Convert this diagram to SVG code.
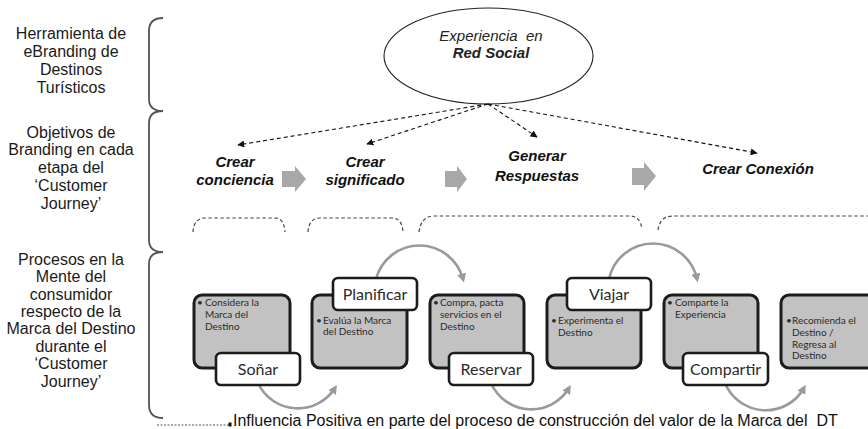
<svg xmlns="http://www.w3.org/2000/svg" width="868" height="429" viewBox="0 0 868 429">
<style>
.side{font-family:"Liberation Sans",Arial,sans-serif;font-size:16px;fill:#1a1a1a;text-anchor:middle}
.obj{font-family:"Liberation Sans",Arial,sans-serif;font-size:15px;font-weight:bold;font-style:italic;fill:#111;text-anchor:middle}
.ell{font-family:"Liberation Sans",Arial,sans-serif;font-size:15px;font-style:italic;fill:#222;text-anchor:middle}
.dash{fill:none;stroke:#111;stroke-width:1.1;stroke-dasharray:4 3}
.brk{fill:none;stroke:#444;stroke-width:1.2;stroke-dasharray:3.5 2.5}
.brace{fill:none;stroke:#555;stroke-width:1.8}
.blk{fill:#a8a8a8}
.box{fill:#c2c2c2;stroke:#1c1c1c;stroke-width:3}
.lab{fill:#fff;stroke:#1c1c1c;stroke-width:2.6}
.labt{font-family:Lato,"Open Sans",sans-serif;font-size:16px;fill:#2a2a2a;text-anchor:middle}
.sm{font-family:Lato,"Open Sans",sans-serif;font-size:10px;fill:#2a2a2a}
.arc{fill:none;stroke:#9a9a9a;stroke-width:2.6}
.foot{font-family:"Liberation Sans",Arial,sans-serif;font-size:16px;fill:#111}
</style>
<defs>
<marker id="ah" viewBox="0 0 10 10" refX="9" refY="5" markerWidth="7" markerHeight="7" markerUnits="userSpaceOnUse" orient="auto"><path d="M0,0 L10,5 L0,10 z" fill="#111"/></marker>
<marker id="ga" viewBox="0 0 10 10" refX="6" refY="5" markerWidth="9" markerHeight="9" markerUnits="userSpaceOnUse" orient="auto"><path d="M0,0 L10,5 L0,10 z" fill="#9a9a9a"/></marker>
</defs>
<rect width="868" height="429" fill="#fff"/>

<g id="side-labels">
<text class="side"><tspan x="71" y="38.5">Herramienta de</tspan><tspan x="71" y="56.7">eBranding de</tspan><tspan x="71" y="74.9">Destinos</tspan><tspan x="71" y="93">Turísticos</tspan></text>
<text class="side"><tspan x="71" y="137.5">Objetivos de</tspan><tspan x="71" y="155.3">Branding en cada</tspan><tspan x="71" y="173.1">etapa del</tspan><tspan x="71" y="190.9">‘Customer</tspan><tspan x="71" y="208.7">Journey’</tspan></text>
<text class="side"><tspan x="71" y="264.8">Procesos en la</tspan><tspan x="71" y="282.2">Mente del</tspan><tspan x="71" y="299.6">consumidor</tspan><tspan x="71" y="317">respecto de la</tspan><tspan x="71" y="334.4">Marca del Destino</tspan><tspan x="71" y="351.8">durante el</tspan><tspan x="71" y="369.2">‘Customer</tspan><tspan x="71" y="386.6">Journey’</tspan></text>
<path class="brace" d="M163,18 Q149,18 149,31 L149,99 Q149,111 163,111 Q149,111 149,123 L149,240 Q149,252 163,252 Q149,252 149,264 L149,405 Q149,418 163,418"/>
</g>

<g id="red-social">
<ellipse cx="488.5" cy="56" rx="104.5" ry="48" fill="#fff" stroke="#222" stroke-width="1.1"/>
<text class="ell" x="491" y="41" xml:space="preserve">Experiencia  en</text>
<text class="ell" x="491" y="58" font-weight="bold" fill="#111">Red Social</text>
</g>

<g id="connectors">
<line class="dash" x1="488" y1="104" x2="238" y2="145" marker-end="url(#ah)"/>
<line class="dash" x1="488" y1="104" x2="367" y2="144" marker-end="url(#ah)"/>
<line class="dash" x1="488" y1="104" x2="537" y2="137" marker-end="url(#ah)"/>
<line class="dash" x1="488" y1="104" x2="757" y2="153" marker-end="url(#ah)"/>
<path class="blk" d="M282,171 L295,171 L295,166 L306,179 L295,192 L295,187 L282,187 z"/>
<path class="blk" d="M445,171 L457,171 L457,166 L467,179 L457,192 L457,187 L445,187 z"/>
<path class="blk" d="M632,168 L644,168 L644,162 L656,176 L644,191 L644,185 L632,185 z"/>
<path class="brk" d="M193,232 Q194,218 205,218 L275,218 Q284,218 285,232"/>
<path class="brk" d="M308,232 Q309,218 320,218 L392,218 Q402,218 403,232"/>
<path class="brk" d="M419,232 Q421,216 434,216 L630,216 Q640,216 642,229"/>
<path class="brk" d="M658,230 Q660,216 673,216 L868,216"/>
<path class="arc" d="M258,383 A44,44 0 0 0 335,388" marker-end="url(#ga)"/>
<path class="arc" d="M376,279 A45,45 0 0 1 463,279" marker-end="url(#ga)"/>
<path class="arc" d="M491,383 A44,44 0 0 0 569,388" marker-end="url(#ga)"/>
<path class="arc" d="M609,279 A45,45 0 0 1 697,279" marker-end="url(#ga)"/>
<path class="arc" d="M725,383 A44,44 0 0 0 804,388" marker-end="url(#ga)"/>
<line x1="157" y1="425" x2="229" y2="425" stroke="#555" stroke-width="1.2" stroke-dasharray="2 1.5"/>
<rect x="228.5" y="422.5" width="3" height="4" fill="#111"/>
</g>

<g id="objectives">
<text class="obj"><tspan x="235" y="167">Crear</tspan><tspan x="235" y="185">conciencia</tspan></text>
<text class="obj"><tspan x="365" y="167">Crear</tspan><tspan x="365" y="185">significado</tspan></text>
<text class="obj"><tspan x="537" y="161">Generar</tspan><tspan x="537" y="181">Respuestas</tspan></text>
<text class="obj" x="758" y="174">Crear Conexión</text>
</g>

<g id="sonar">
<rect class="box" x="194" y="295" width="96" height="73" rx="8"/>
<text class="sm"><tspan x="197" y="306">•</tspan><tspan x="205" y="306">Considera la</tspan><tspan x="205" y="318">Marca del</tspan><tspan x="205" y="330">Destino</tspan></text>
<rect class="lab" x="216" y="353" width="84" height="32" rx="5"/>
<text class="labt" x="258" y="375">Soñar</text>
</g>

<g id="planificar">
<rect class="box" x="312" y="295" width="95" height="73" rx="8"/>
<rect class="lab" x="333" y="278" width="84" height="32" rx="5"/>
<text class="labt" x="375" y="300">Planificar</text>
<text class="sm"><tspan x="316" y="324">•</tspan><tspan x="323" y="324">Evalúa la Marca</tspan><tspan x="323" y="335">del Destino</tspan></text>
</g>

<g id="reservar">
<rect class="box" x="430" y="295" width="94" height="73" rx="8"/>
<text class="sm"><tspan x="433" y="306">•</tspan><tspan x="440" y="306">Compra, pacta</tspan><tspan x="440" y="318">servicios en el</tspan><tspan x="440" y="330">Destino</tspan></text>
<rect class="lab" x="449" y="353" width="84" height="32" rx="5"/>
<text class="labt" x="491" y="375">Reservar</text>
</g>

<g id="viajar">
<rect class="box" x="547" y="295" width="94" height="73" rx="8"/>
<rect class="lab" x="567" y="278" width="84" height="32" rx="5"/>
<text class="labt" x="609" y="300">Viajar</text>
<text class="sm"><tspan x="551" y="324">•</tspan><tspan x="558" y="324">Experimenta el</tspan><tspan x="558" y="336">Destino</tspan></text>
</g>

<g id="compartir">
<rect class="box" x="664" y="295" width="94" height="73" rx="8"/>
<text class="sm"><tspan x="667" y="306">•</tspan><tspan x="675" y="306">Comparte la</tspan><tspan x="675" y="318">Experiencia</tspan></text>
<rect class="lab" x="683" y="353" width="85" height="32" rx="5"/>
<text class="labt" x="725.5" y="375">Compartir</text>
</g>

<g id="recomienda">
<rect class="box" x="781" y="295" width="100" height="73" rx="8"/>
<text class="sm"><tspan x="786" y="324">•</tspan><tspan x="792" y="324">Recomienda el</tspan><tspan x="792" y="336">Destino /</tspan><tspan x="792" y="347.5">Regresa al</tspan><tspan x="792" y="359">Destino</tspan></text>
</g>

<g id="footnote">
<text class="foot" x="233" y="425.5" xml:space="preserve">Influencia Positiva en parte del proceso de construcción del valor de la Marca del  DT</text>
</g>
</svg>
